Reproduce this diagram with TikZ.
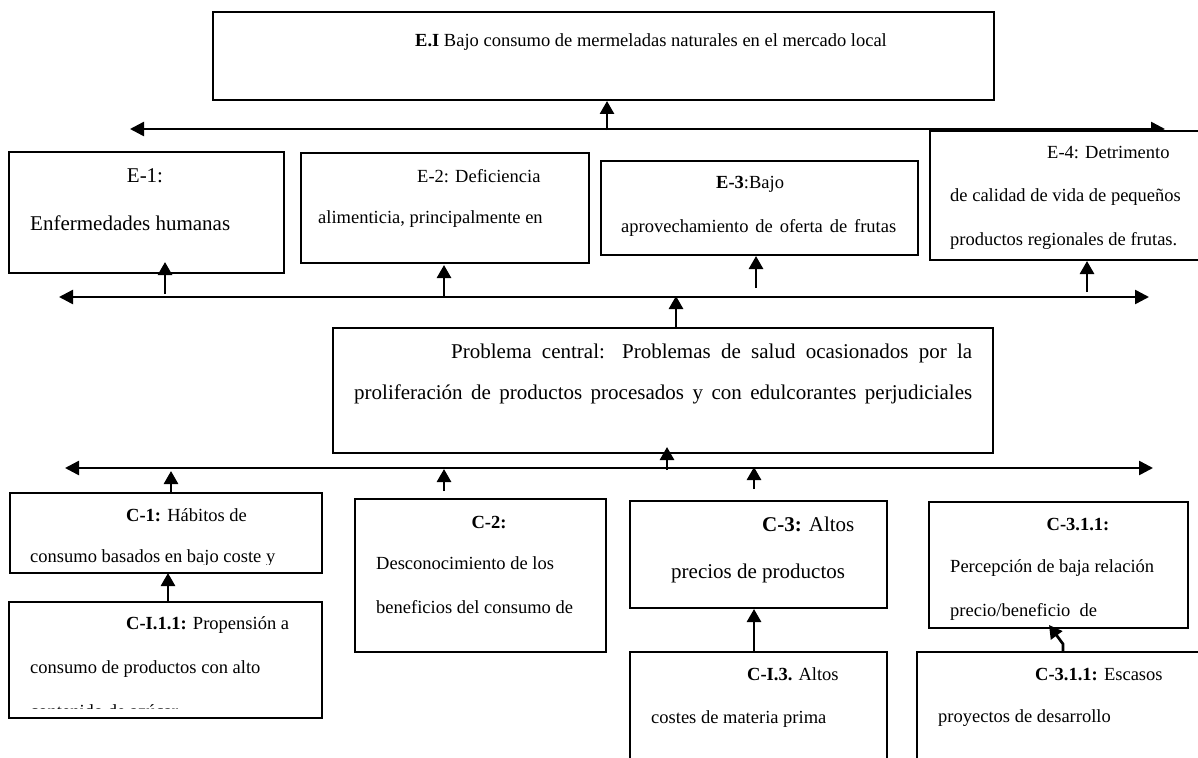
\documentclass[tikz,border=0pt]{standalone}
\usepackage{fontspec}
\setmainfont{Liberation Serif}
\usetikzlibrary{arrows.meta}
\newcommand{\fsn}{\fontsize{18.5}{22}\selectfont}
\newcommand{\fsl}{\fontsize{21}{25}\selectfont}
\tikzset{
  box/.style={draw, line width=2pt, fill=white, inner sep=0pt, outer sep=0pt, anchor=north west},
  conn/.style={line width=2.7pt, -{Triangle[width=14pt,length=13pt]}},
  hub/.style={line width=2.5pt, {Triangle[width=14pt,length=14pt]}-{Triangle[width=14pt,length=14pt]}},
  txt/.style={anchor=base west, inner sep=0pt, font=\fsn},
  txtc/.style={anchor=base, inner sep=0pt, font=\fsn},
}
\begin{document}
\begin{tikzpicture}[x=1pt,y=-1pt]
\useasboundingbox (0,0) rectangle (1198,757);
\fill[white] (0,0) rectangle (1198,757);

% hub lines
\coordinate (h1l) at (130,129); \coordinate (h1r) at (1165,129);
\coordinate (h2l) at (59,297);  \coordinate (h2r) at (1149,297);
\coordinate (h3l) at (65,468);  \coordinate (h3r) at (1153,468);
\draw[hub] (h1r) -- (h1l);
\draw[hub] (h2l) -- (h2r);
\draw[hub] (h3l) -- (h3r);

% boxes
\node[box, line width=2.4pt, minimum width=781pt, minimum height=88pt] (ei) at (213,12) {};
\node[box, minimum width=275pt, minimum height=121pt] (e1) at (9,152) {};
\node[box, minimum width=288pt, minimum height=110pt] (e2) at (301,153) {};
\node[box, line width=2.3pt, minimum width=317pt, minimum height=94pt] (e3) at (601,161) {};
\node[box, minimum width=290pt, minimum height=129pt] (e4) at (930,131) {};
\node[box, line width=2.3pt, minimum width=660pt, minimum height=125pt] (pc) at (333,328) {};
\node[box, line width=2.3pt, minimum width=312pt, minimum height=80pt] (c1) at (10,493) {};
\node[box, line width=2.3pt, minimum width=313pt, minimum height=116pt] (c11) at (9,602) {};
\node[box, minimum width=251pt, minimum height=153pt] (c2) at (355,499) {};
\node[box, line width=2.3pt, minimum width=257pt, minimum height=107pt] (c3) at (630,501) {};
\node[box, minimum width=259pt, minimum height=126pt] (c31a) at (929,502) {};
\node[box, minimum width=257pt, minimum height=130pt] (ci3) at (630,652) {};
\node[box, minimum width=300pt, minimum height=130pt] (c31b) at (917,652) {};

% connectors
\coordinate (a0s) at (607,130); \coordinate (a0t) at (607,101);
\draw[conn] (a0s) -- (a0t);
\coordinate (a1s) at (165,294); \coordinate (a1t) at (165,262);
\draw[conn] (a1s) -- (a1t);
\coordinate (a2s) at (444,296); \coordinate (a2t) at (444,265);
\draw[conn] (a2s) -- (a2t);
\coordinate (a3s) at (756,288); \coordinate (a3t) at (756,256);
\draw[conn] (a3s) -- (a3t);
\coordinate (a4s) at (1087,292); \coordinate (a4t) at (1087,261);
\draw[conn] (a4s) -- (a4t);
\coordinate (a5s) at (676,328); \coordinate (a5t) at (676,296);
\draw[conn] (a5s) -- (a5t);
\coordinate (a6s) at (667,470); \coordinate (a6t) at (667,447);
\draw[conn] (a6s) -- (a6t);
\coordinate (a7s) at (171,493); \coordinate (a7t) at (171,471);
\draw[conn] (a7s) -- (a7t);
\coordinate (a8s) at (444,491); \coordinate (a8t) at (444,469);
\draw[conn] (a8s) -- (a8t);
\coordinate (a9s) at (754,489); \coordinate (a9t) at (754,467);
\draw[conn] (a9s) -- (a9t);
\coordinate (a10s) at (168,602); \coordinate (a10t) at (168,573);
\draw[conn] (a10s) -- (a10t);
\coordinate (a11s) at (754,652); \coordinate (a11t) at (754,609);
\draw[conn] (a11s) -- (a11t);
\coordinate (a12s) at (1063,652); \coordinate (a12m) at (1063,644); \coordinate (a12t) at (1049,625);
\draw[conn] (a12s) -- (a12m) -- (a12t);

% texts
\node[txt] (tei) at (415,47) {\textbf{E.I} Bajo consumo de mermeladas naturales en el mercado local};
\node[txtc, font=\fsl] (te1a) at (145,182) {E-1:};
\node[txt, font=\fsl] (te1b) at (30,230) {Enfermedades humanas};
\node[txt] (te2a) at (417,182) {E-2: Deficiencia};
\node[txt] (te2b) at (318,223) {alimenticia, principalmente en};
\node[txt] (te3a) at (716,188) {\textbf{E-3}:Bajo};
\node[txt] (te3b) at (621,232) {\makebox[275pt][s]{aprovechamiento de oferta de frutas}};
\node[txt] (te4a) at (1047,158) {E-4: Detrimento};
\node[txt] (te4b) at (950,201) {de calidad de vida de pequeños};
\node[txt] (te4c) at (950,245) {productos regionales de frutas.};
\node[txt, font=\fsl] (tpc1) at (451,358) {\makebox[521pt][s]{Problema central: Problemas de salud ocasionados por la}};
\node[txt, font=\fsl] (tpc2) at (354,399) {\makebox[618pt][s]{proliferación de productos procesados y con edulcorantes perjudiciales}};
\node[txt] (tc1a) at (126,521) {\textbf{C-1:} Hábitos de};
\begin{scope}
\clip (0,480) rectangle (330,564);
\node[txt] (tc1b) at (30,562) {consumo basados en bajo coste y};
\end{scope}
\node[txt] (tc11a) at (126,629) {\textbf{C-I.1.1:} Propensión a};
\node[txt] (tc11b) at (30,673) {consumo de productos con alto};
\begin{scope}
\clip (0,690) rectangle (330,708.5);
\node[txt] (tc11c) at (30,717) {contenido de azúcar};
\end{scope}
\node[txtc] (tc2a) at (489,528) {\textbf{C-2:}};
\node[txt] (tc2b) at (376,569) {Desconocimiento de los};
\node[txt] (tc2c) at (376,613) {beneficios del consumo de};
\node[txt, font=\fsl] (tc3a) at (762,531) {\textbf{C-3:} Altos};
\node[txt, font=\fsl] (tc3b) at (671,578) {precios de productos};
\node[txt] (tci3a) at (747,680) {\textbf{C-I.3.} Altos};
\node[txt] (tci3b) at (651,723) {costes de materia prima};
\node[txtc] (tc31a) at (1078,530) {\textbf{C-3.1.1:}};
\node[txt] (tc31b) at (950,572) {Percepción de baja relación};
\node[txt] (tc31c) at (950,616) {precio/beneficio\ \ de};
\node[txt] (tc31d) at (1035,680) {\textbf{C-3.1.1:} Escasos};
\node[txt] (tc31e) at (938,722) {proyectos de desarrollo};
\end{tikzpicture}
\end{document}
